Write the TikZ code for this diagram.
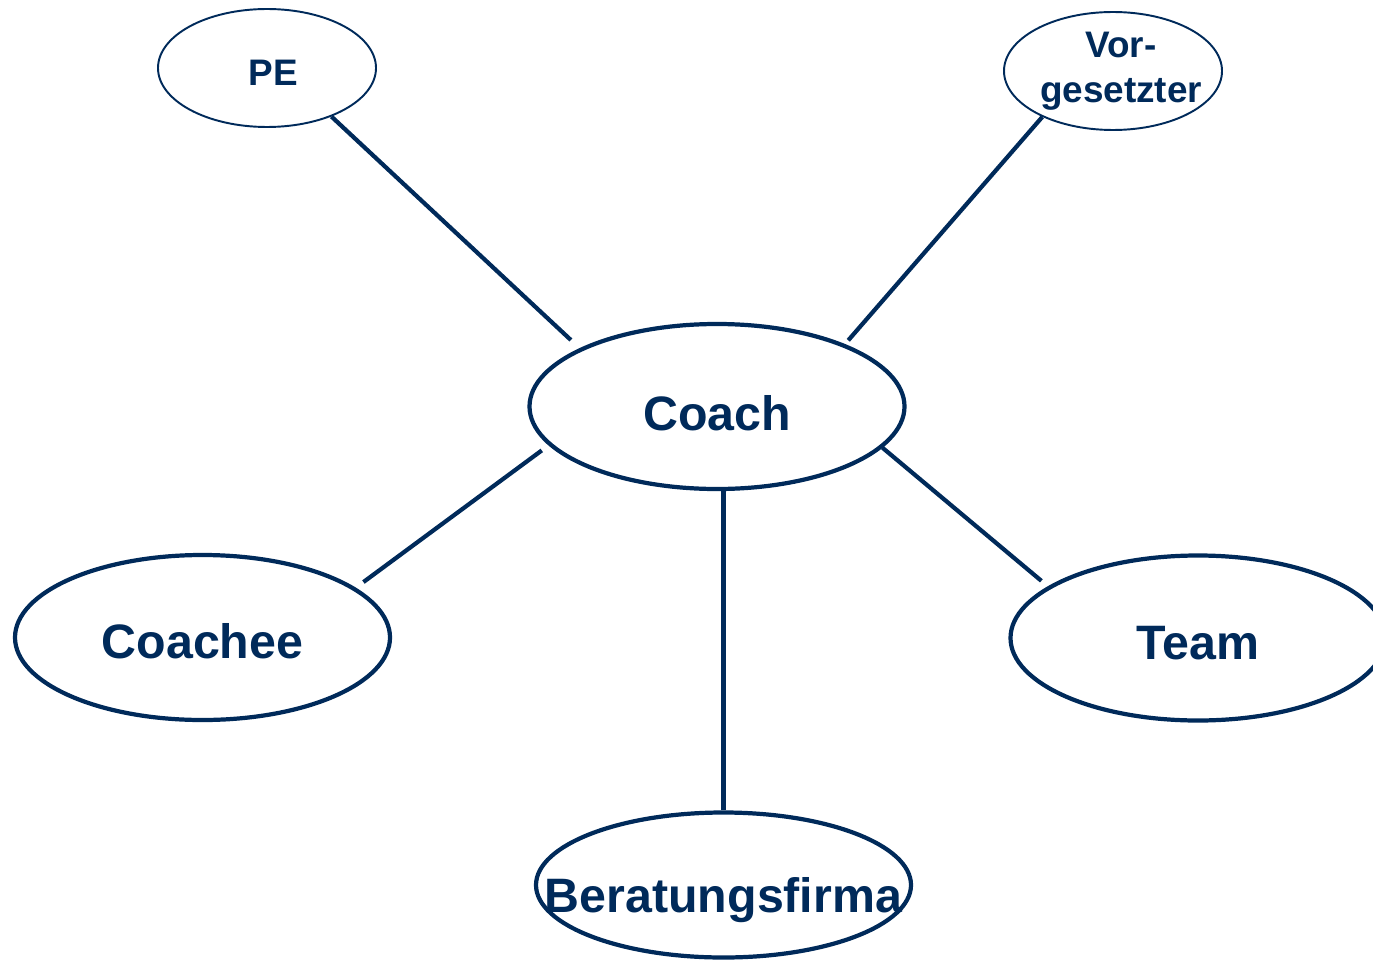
\documentclass[tikz,border=0pt]{standalone}
\usepackage{fontspec}
\setmainfont{Liberation Sans}
\usetikzlibrary{shapes.geometric}
\definecolor{navy}{RGB}{0,42,90}

\begin{document}
\begin{tikzpicture}[
    every node/.style={ellipse,draw=navy,text=navy,inner sep=0pt},
    big/.style={line width=2.4pt,minimum width=7.5cm,minimum height=3.3cm,
        text height=0.84cm,text depth=0pt,font=\bfseries\fontsize{27.5}{33}\selectfont},
    small/.style={line width=1.1pt,minimum width=4.36cm,minimum height=2.36cm,
        font=\bfseries\fontsize{21}{25.6}\selectfont},
    link/.style={draw=navy,line width=2.4pt}
]
    \useasboundingbox (0,0) rectangle (27.46,-19.2);

    \node [big, text height=0.94cm] (coach) at (14.34,-8.13) {Coach};
    \node [small, text height=0.72cm, text depth=0pt] (pe) at (5.34,-1.36) {\makebox[0pt]{\hspace{0.24cm}PE}};
    \node [small, align=center] (vor) at (22.26,-1.42) {\makebox[0pt]{\hspace{0.32cm}Vor-}\\\makebox[0pt]{\hspace{0.32cm}gesetzter}};
    \node [big] (coachee) at (4.05,-12.75) {Coachee};
    \node [big] (team) at (23.96,-12.76) {Team};
    \node [big, minimum height=2.9cm, text height=1.08cm] (firma) at (14.47,-17.7) {\makebox[0pt]{Beratungsfirma}};

    \foreach \from/\to/\gapa/\gapb in {pe.-37/coach.157.6/0pt/0.24cm,
        vor.-147/coach.26/0pt/0.1cm,
        coachee.18/coach.-167.8/0.19cm/0.17cm,
        team.161.7/coach.-14.9/0.17cm/0pt}{%
        \draw [link, shorten <=\gapa, shorten >=\gapb] (\from) -- (\to);
    }
    \draw [link] (firma.north) -- (firma.north |- coach.south);
\end{tikzpicture}
\end{document}
